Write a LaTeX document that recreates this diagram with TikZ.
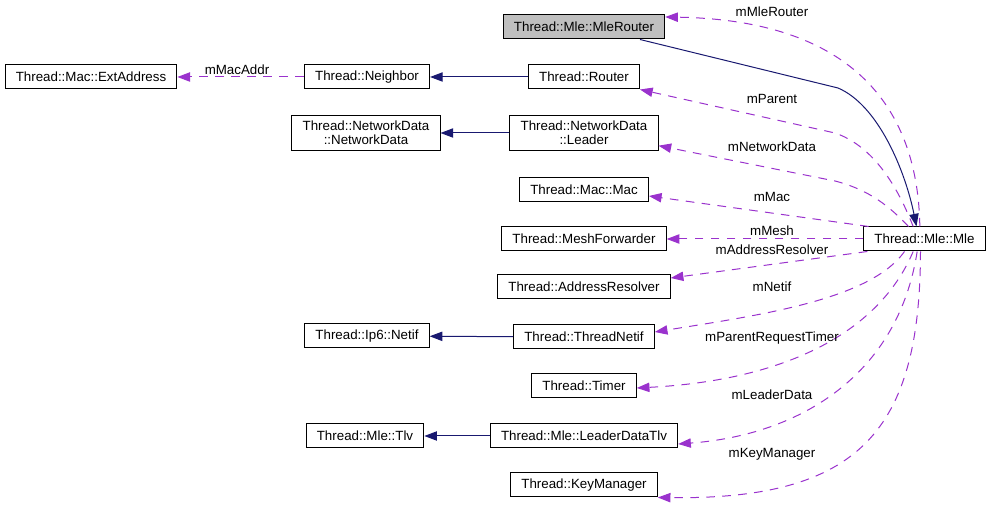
\documentclass[tikz,border=0pt]{standalone}
\usepackage{fontspec}
\setmainfont{Liberation Sans}
\usepackage{xcolor}
\usepackage{tikz}
\usetikzlibrary{arrows.meta, positioning}

\definecolor{edgeNavy}{HTML}{191970}
\definecolor{edgePurple}{HTML}{9A32CD}
\definecolor{boxGray}{HTML}{BFBFBF}

\begin{document}
\begin{tikzpicture}[
      x=0.75pt, y=-0.75pt,
      font=\fontsize{10}{10.5}\selectfont,
      cls/.style={rectangle, draw, line width=0.75pt, minimum height=18pt, inner xsep=8pt, inner ysep=4pt, align=center},
      mainCls/.style={cls, fill=boxGray},
      lbl/.style={inner sep=0pt},
      inherit/.style={draw=edgeNavy, line width=0.75pt, -{Triangle[length=9.5pt, width=7pt]}},
      member/.style={draw=edgePurple, line width=0.75pt, dash pattern=on 6.5pt off 5.5pt, -{Triangle[length=9.5pt, width=7pt]}}
    ]
      \useasboundingbox (0,0) rectangle (990,505);

      \node[mainCls] (mr) at (584,27) {Thread::Mle::MleRouter};
      \node[cls] (ea) at (91,77) {Thread::Mac::ExtAddress};
      \node[cls] (nb) at (367,77) {Thread::Neighbor};
      \node[cls] (rt) at (584,77) {Thread::Router};
      \node[cls] (nd) at (366,133) {Thread::NetworkData\\::NetworkData};
      \node[cls] (ld) at (584,133) {Thread::NetworkData\\::Leader};
      \node[cls] (mac) at (584,190) {Thread::Mac::Mac};
      \node[cls] (mf) at (584,239) {Thread::MeshForwarder};
      \node[cls] (mle) at (924.5,239) {Thread::Mle::Mle};
      \node[cls] (ar) at (584,287) {Thread::AddressResolver};
      \node[cls] (ipn) at (367,336) {Thread::Ip6::Netif};
      \node[cls] (tn) at (584,337) {Thread::ThreadNetif};
      \node[cls] (tmr) at (584,386) {Thread::Timer};
      \node[cls] (tlv) at (365,436) {Thread::Mle::Tlv};
      \node[cls] (ldt) at (584,436) {Thread::Mle::LeaderDataTlv};
      \node[cls] (km) at (584,485) {Thread::KeyManager};

      % inheritance
      \draw[inherit] (rt) -- (nb);
      \draw[inherit] (ld) -- (nd);
      \draw[inherit] (tn) -- (ipn);
      \draw[inherit] (ldt) -- (tlv);
      \draw[inherit] ([xshift=42pt]mr.south) -- (838,88) .. controls (878,105) and (905,170) .. ([xshift=-6pt]mle.north);

      % members
      \draw[member] (nb) -- (ea);
      \draw[member] ([xshift=-3.5pt]mle.north) .. controls (918,110) and (855,20) .. ([yshift=7.5pt]mr.east);
      \draw[member] ([xshift=-8.5pt]mle.north) .. controls (895,180) and (870,145) .. (835,133) -- (rt.south east);
      \draw[member] ([xshift=-12pt]mle.north) .. controls (890,207) and (870,190) .. (835,181) -- ([yshift=-9.5pt]ld.east);
      \draw[member] ([xshift=4pt]mle.north west) -- ([yshift=-4.5pt]mac.east);
      \draw[member] (mle) -- (mf);
      \draw[member] ([xshift=3pt]mle.south west) -- ([yshift=6.75pt]ar.east);
      \draw[member] ([xshift=-15pt]mle.south) .. controls (870,300) and (760,315) .. ([yshift=3.75pt]tn.east);
      \draw[member] ([xshift=-8.5pt]mle.south) .. controls (880,330) and (790,380) .. ([yshift=-1.5pt]tmr.east);
      \draw[member] ([xshift=-5.5pt]mle.south) .. controls (898,375) and (800,435) .. ([yshift=-6pt]ldt.east);
      \draw[member] ([xshift=-3pt]mle.south) .. controls (920,430) and (860,500) .. (km.south east);

      % labels
      \node[lbl] (lMacAddr) at (237,70) {mMacAddr};
      \node[lbl] (lMleRouter) at (772,12) {mMleRouter};
      \node[lbl] (lParent) at (772,99) {mParent};
      \node[lbl] (lNetworkData) at (772,147) {mNetworkData};
      \node[lbl] (lMac) at (772,197) {mMac};
      \node[lbl] (lMesh) at (772,231) {mMesh};
      \node[lbl] (lAddressResolver) at (772,250) {mAddressResolver};
      \node[lbl] (lNetif) at (772,287) {mNetif};
      \node[lbl] (lParentRequestTimer) at (772,338) {mParentRequestTimer};
      \node[lbl] (lLeaderData) at (772,395) {mLeaderData};
      \node[lbl] (lKeyManager) at (772,454) {mKeyManager};
    \end{tikzpicture}
\end{document}
